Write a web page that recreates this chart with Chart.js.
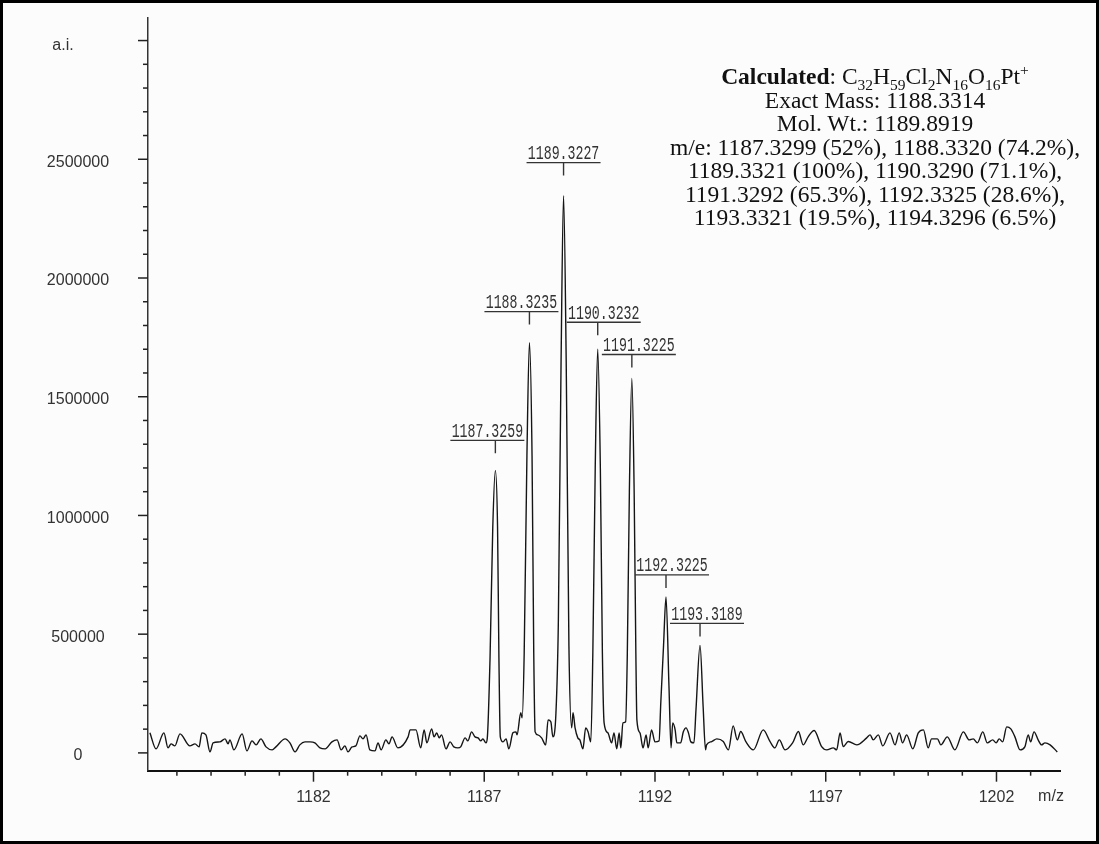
<!DOCTYPE html>
<html>
<head>
<meta charset="utf-8">
<script src="https://cdn.jsdelivr.net/npm/chart.js@4.4.0/dist/chart.umd.min.js"></script>
<style>
  body { margin: 0; background: #fff; }
  #frame { position: absolute; left: 0; top: 0; width: 1093px; height: 838px; border: 3px solid #000; background: #fcfcfc; }
  #calc { position: absolute; left: 615px; top: 65px; width: 520px; text-align: center; font-family: "Liberation Serif", serif; font-size: 23.5px; line-height: 23.5px; color: #111; }
  #calc sub, #calc sup { font-size: 15.5px; line-height: 0; }
</style>
</head>
<body>
<div id="frame"><canvas id="spectrum" width="1093" height="838"></canvas></div>
<div id="calc">
  <div><b>Calculated</b>: C<sub>32</sub>H<sub>59</sub>Cl<sub>2</sub>N<sub>16</sub>O<sub>16</sub>Pt<sup>+</sup></div>
  <div>Exact Mass: 1188.3314</div>
  <div>Mol. Wt.: 1189.8919</div>
  <div>m/e: 1187.3299 (52%), 1188.3320 (74.2%),</div>
  <div>1189.3321 (100%), 1190.3290 (71.1%),</div>
  <div>1191.3292 (65.3%), 1192.3325 (28.6%),</div>
  <div>1193.3321 (19.5%), 1194.3296 (6.5%)</div>
</div>
<script>
// baseline noise before the isotope cluster
const leftMz = [1177.21, 1177.39, 1177.62, 1177.74, 1177.83, 1177.94, 1178.09, 1178.38, 1178.53, 1178.65,
  1178.73, 1178.85, 1178.97, 1179.06, 1179.26, 1179.41, 1179.50, 1179.55, 1179.67, 1179.91,
  1180.05, 1180.20, 1180.32, 1180.46, 1180.61, 1180.79, 1180.90, 1181.17, 1181.31, 1181.46,
  1181.60, 1181.75, 1181.90, 1182.04, 1182.19, 1182.34, 1182.54, 1182.69, 1182.81, 1182.92,
  1183.01, 1183.13, 1183.24, 1183.36, 1183.45, 1183.54, 1183.65, 1183.80, 1183.89, 1183.98,
  1184.12, 1184.21, 1184.30, 1184.47, 1184.77, 1184.83, 1185.00, 1185.14, 1185.24, 1185.32,
  1185.46, 1185.53, 1185.61, 1185.68, 1185.75, 1185.88, 1186.00, 1186.11, 1186.23, 1186.31,
  1186.44, 1186.52, 1186.63, 1186.73, 1186.82, 1186.90, 1186.96, 1187.05, 1187.09];
const leftInt = [84400, 16900, 84400, 21100, 38000, 29500, 80200, 29500, 38000, 25300,
  84400, 75900, 4200, 42200, 46400, 59100, 38000, 54800, 12700, 80200,
  8400, 50600, 33800, 59100, 25300, 12700, 25300, 59100, 42200, 4200,
  33800, 46400, 46400, 42200, 21100, 16900, 46400, 54800, 12700, 29500,
  4200, 25300, 29500, 71700, 59100, 75900, 12700, 8400, 42200, 12700,
  54800, 38000, 67500, 21100, 67500, 97000, 97000, 21100, 97000, 42200,
  101300, 67500, 84400, 63300, 75900, 16900, 46400, 25300, 21100, 25300,
  63300, 50600, 88600, 67500, 63300, 50600, 59100, 42200, 63300];

// isotope cluster 1187 - 1193
const clusterMz = [1187.17, 1187.25, 1187.3259, 1187.39, 1187.43, 1187.47, 1187.55, 1187.64, 1187.72, 1187.84,
  1187.93, 1187.96, 1188.07, 1188.11, 1188.17, 1188.25, 1188.3235, 1188.40, 1188.45, 1188.49,
  1188.57, 1188.68, 1188.80, 1188.87, 1188.95, 1189.01, 1189.10, 1189.17, 1189.25, 1189.3227,
  1189.40, 1189.48, 1189.56, 1189.60, 1189.66, 1189.74, 1189.80, 1189.89, 1189.97, 1190.04,
  1190.12, 1190.18, 1190.25, 1190.3232, 1190.40, 1190.46, 1190.51, 1190.62, 1190.73, 1190.80,
  1190.88, 1190.95, 1191.00, 1191.06, 1191.14, 1191.19, 1191.25, 1191.3225, 1191.39, 1191.44,
  1191.47, 1191.56, 1191.65, 1191.74, 1191.80, 1191.90, 1192.00, 1192.12, 1192.17, 1192.25,
  1192.3225, 1192.41, 1192.47, 1192.52, 1192.59, 1192.64, 1192.75, 1192.83, 1192.91, 1192.98,
  1193.05, 1193.14, 1193.20, 1193.3189, 1193.41, 1193.48];
const clusterInt = [400000, 950000, 1190000, 950000, 400000, 67500, 46400, 59100, 16900, 84400,
  88600, 75900, 168800, 147700, 420000, 1250000, 1728000, 1250000, 420000, 88600,
  75900, 63300, 33800, 139200, 130800, 67500, 168800, 550000, 1650000, 2347000,
  1650000, 450000, 105500, 168800, 105500, 63300, 54800, 16900, 105500, 88600,
  46400, 420000, 1200000, 1700000, 1200000, 420000, 126600, 84400, 42200, 84400,
  16900, 84400, 21100, 126600, 130800, 420000, 1100000, 1577000, 1100000, 420000,
  139200, 84400, 21100, 75900, 21100, 97000, 46400, 50600, 211000, 450000,
  657000, 278500, 21100, 126600, 97000, 42200, 42200, 88600, 105500, 84400,
  46400, 42200, 180000, 452700, 194000, 12700];

// baseline noise after the cluster
const rightMz = [1193.51, 1193.66, 1193.81, 1194.00, 1194.15, 1194.29, 1194.41, 1194.51, 1194.66, 1194.88,
  1195.17, 1195.37, 1195.51, 1195.64, 1195.81, 1196.03, 1196.20, 1196.34, 1196.49, 1196.66,
  1196.88, 1197.03, 1197.22, 1197.32, 1197.42, 1197.51, 1197.66, 1197.91, 1198.20, 1198.30,
  1198.39, 1198.54, 1198.67, 1198.88, 1199.03, 1199.15, 1199.25, 1199.37, 1199.55, 1199.71,
  1199.86, 1200.00, 1200.10, 1200.27, 1200.37, 1200.56, 1200.78, 1201.03, 1201.20, 1201.32,
  1201.44, 1201.60, 1201.73, 1201.89, 1201.99, 1202.08, 1202.18, 1202.30, 1202.42, 1202.54,
  1202.69, 1202.83, 1202.93, 1203.00, 1203.10, 1203.22, 1203.32, 1203.42, 1203.57, 1203.78];
const rightInt = [33800, 47700, 59100, 47700, 12700, 113900, 54800, 89900, 47700, 12700,
  97000, 47700, 21100, 54800, 12700, 42200, 89900, 33800, 68800, 94100,
  26600, 12700, 21100, 12700, 84400, 26600, 47700, 33800, 63300, 75900,
  54800, 75900, 29500, 84400, 33800, 84400, 42200, 75900, 16900, 84400,
  97000, 21100, 59100, 59100, 33800, 67500, 12700, 88600, 54800, 59100,
  42200, 88600, 42200, 54800, 42200, 59100, 46400, 109700, 101300, 67500,
  12700, 25300, 75900, 46400, 88600, 54800, 33800, 42200, 33800, 4200];

// labelled peaks
const peakLabels = ['1187.3259', '1188.3235', '1189.3227', '1190.3232', '1191.3225', '1192.3225', '1193.3189'];
const peakMz = [1187.3259, 1188.3235, 1189.3227, 1190.3232, 1191.3225, 1192.3225, 1193.3189];
const peakInt = [1190000, 1728000, 2347000, 1700000, 1577000, 657000, 452700];

// axis ticks
const xTickLabels = [1182, 1187, 1192, 1197, 1202];
const xFirstTick = 1178, xLastTick = 1203;
const yTickLabels = [0, 500000, 1000000, 1500000, 2000000, 2500000];
const yTop = 3000000, yStep = 100000;

// label placement (px): shift of the label from its peak, rise of the underline above the apex
const labelShift = [-8, -8, 0, 6, 7, 6, 7];
const labelRise = [30, 31, 33, 27, 24, 22, 22];

const allMz = leftMz.concat(clusterMz, rightMz);
const allInt = leftInt.concat(clusterInt, rightInt);
const points = allMz.map((m, i) => ({ x: m, y: allInt[i] }));

const decorPlugin = {
    id: 'decor',
    afterDraw(chart) {
        const { ctx, chartArea, scales: { x, y } } = chart;
        ctx.save();
        ctx.strokeStyle = '#222';
        ctx.lineWidth = 1.5;
        ctx.fillStyle = '#333';
        ctx.font = '16px "Liberation Sans", Arial, sans-serif';
        ctx.textAlign = 'center';
        ctx.textBaseline = 'middle';

        // x ticks, long on labelled values
        for (let v = xFirstTick; v <= xLastTick; v++) {
            const px = x.getPixelForValue(v);
            const len = xTickLabels.includes(v) ? 11 : 5;
            ctx.beginPath();
            ctx.moveTo(px, chartArea.bottom);
            ctx.lineTo(px, chartArea.bottom + len);
            ctx.stroke();
        }

        // y ticks and labels
        for (let k = 0; k * yStep <= yTop; k++) {
            const v = k * yStep;
            const py = y.getPixelForValue(v);
            const major = v === yTop || yTickLabels.includes(v);
            ctx.beginPath();
            ctx.moveTo(chartArea.left, py);
            ctx.lineTo(chartArea.left - (major ? 10 : 5), py);
            ctx.stroke();
            if (v === yTop) {
                ctx.fillText('a.i.', 60, py + 5);
            } else if (major) {
                ctx.fillText(String(v), 75, py + 3);
            }
        }

        ctx.fillText('m/z', chartArea.right - 9, chartArea.bottom + 26);

        // peak annotations
        peakMz.forEach((m, i) => {
            const px = x.getPixelForValue(m);
            const py = y.getPixelForValue(peakInt[i]);
            const uy = py - labelRise[i];
            const lx = px + labelShift[i];
            ctx.strokeStyle = '#333';
            ctx.lineWidth = 1.4;
            ctx.beginPath();
            ctx.moveTo(px, uy);
            ctx.lineTo(px, uy + 13);
            ctx.moveTo(lx - 37, uy);
            ctx.lineTo(lx + 37, uy);
            ctx.stroke();
            ctx.save();
            ctx.translate(lx, uy - 3.5);
            ctx.scale(0.63, 1);
            ctx.font = '21px "Liberation Mono", monospace';
            ctx.textAlign = 'center';
            ctx.textBaseline = 'alphabetic';
            ctx.fillText(peakLabels[i], 0, 0);
            ctx.restore();
        });
        ctx.restore();
    }
};

document.addEventListener("DOMContentLoaded", function() {
    const ctx = document.getElementById('spectrum').getContext('2d');
    const spectrum = new Chart(ctx, {
        type: 'scatter',
        data: {
            datasets: [{
                data: points,
                showLine: true,
                borderColor: '#151515',
                borderWidth: 1.4,
                pointRadius: 0,
                cubicInterpolationMode: 'monotone'
            }]
        },
        options: {
            responsive: false,
            animation: false,
            layout: { padding: { top: 15, right: 36, left: 0, bottom: 0 } },
            plugins: { legend: { display: false }, tooltip: { enabled: false } },
            scales: {
                x: {
                    type: 'linear',
                    min: 1177.154,
                    max: 1203.86,
                    afterFit: s => { s.height = 70.3; },
                    grid: { drawOnChartArea: false, drawTicks: false },
                    border: { color: '#111', width: 2 },
                    ticks: {
                        stepSize: 1,
                        includeBounds: false,
                        autoSkip: false,
                        maxRotation: 0,
                        padding: 17,
                        color: '#333',
                        font: { family: '"Liberation Sans", Arial, sans-serif', size: 16 },
                        callback: v => xTickLabels.includes(v) ? String(v) : ''
                    }
                },
                y: {
                    type: 'linear',
                    min: -75000,
                    max: 3095000,
                    afterFit: s => { s.width = 145; },
                    grid: { drawOnChartArea: false, drawTicks: false },
                    border: { color: '#333', width: 1.5 },
                    ticks: { display: false, padding: 0 }
                }
            }
        },
        plugins: [decorPlugin]
    });
});
</script>
</body>
</html>
